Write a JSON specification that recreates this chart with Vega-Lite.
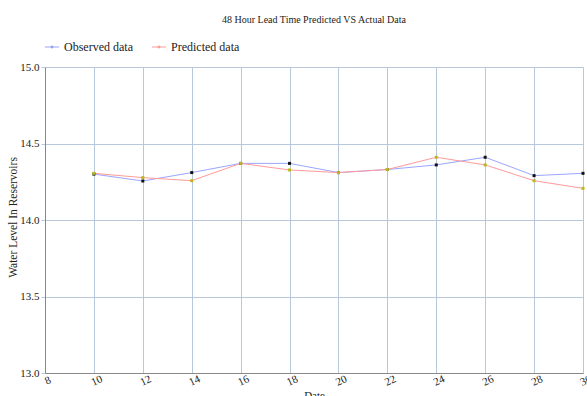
{
  "$schema": "https://vega.github.io/schema/vega-lite/v6.json",
  "autosize": "none",
  "width": 538,
  "height": 306,
  "padding": {"left": 45, "top": 67, "right": 4, "bottom": 23},
  "background": "white",
  "config": {
    "font": "Liberation Serif",
    "view": {"stroke": null}
  },
  "title": {
    "text": "48 Hour Lead Time Predicted VS Actual Data",
    "fontSize": 10,
    "fontWeight": "normal",
    "font": "Liberation Serif",
    "color": "#222",
    "anchor": "middle",
    "frame": "group",
    "offset": 14
  },
  "data": {
    "values": [
      {"date": 10, "value": 14.30, "series": "Observed data"},
      {"date": 12, "value": 14.255, "series": "Observed data"},
      {"date": 14, "value": 14.31, "series": "Observed data"},
      {"date": 16, "value": 14.37, "series": "Observed data"},
      {"date": 18, "value": 14.37, "series": "Observed data"},
      {"date": 20, "value": 14.31, "series": "Observed data"},
      {"date": 22, "value": 14.33, "series": "Observed data"},
      {"date": 24, "value": 14.36, "series": "Observed data"},
      {"date": 26, "value": 14.41, "series": "Observed data"},
      {"date": 28, "value": 14.29, "series": "Observed data"},
      {"date": 30, "value": 14.305, "series": "Observed data"},
      {"date": 10, "value": 14.305, "series": "Predicted data"},
      {"date": 12, "value": 14.277, "series": "Predicted data"},
      {"date": 14, "value": 14.257, "series": "Predicted data"},
      {"date": 16, "value": 14.37, "series": "Predicted data"},
      {"date": 18, "value": 14.327, "series": "Predicted data"},
      {"date": 20, "value": 14.31, "series": "Predicted data"},
      {"date": 22, "value": 14.33, "series": "Predicted data"},
      {"date": 24, "value": 14.41, "series": "Predicted data"},
      {"date": 26, "value": 14.36, "series": "Predicted data"},
      {"date": 28, "value": 14.257, "series": "Predicted data"},
      {"date": 30, "value": 14.207, "series": "Predicted data"}
    ]
  },
  "encoding": {
    "x": {
      "field": "date",
      "type": "quantitative",
      "scale": {"domain": [8, 30], "nice": false, "zero": false},
      "axis": {
        "title": "Date",
        "values": [8, 10, 12, 14, 16, 18, 20, 22, 24, 26, 28, 30],
        "labelAngle": -25,
        "labelAlign": "center",
        "labelBaseline": "top",
        "labelFontSize": 11,
        "labelColor": "#222",
        "labelPadding": 2,
        "tickSize": 0,
        "gridColor": "#b8c8da",
        "gridOpacity": 1,
        "domainColor": "#888",
        "titleFontSize": 11,
        "titleFontWeight": "normal",
        "titleColor": "#222",
        "titlePadding": 2
      }
    },
    "y": {
      "field": "value",
      "type": "quantitative",
      "scale": {"domain": [13, 15], "nice": false, "zero": false},
      "axis": {
        "title": "Water Level In Reservoirs",
        "values": [13, 13.5, 14, 14.5, 15],
        "format": ".1f",
        "labelFontSize": 11,
        "labelColor": "#222",
        "tickSize": 4,
        "tickColor": "#b8c8da",
        "gridColor": "#b8c8da",
        "gridOpacity": 1,
        "domainColor": "#888",
        "titleFontSize": 11.5,
        "titleFontWeight": "normal",
        "titleColor": "#222",
        "titleX": -27,
        "titleY": 150,
        "titleBaseline": "bottom",
        "titleAngle": -90,
        "titleAlign": "center"
      }
    }
  },
  "layer": [
    {
      "mark": {"type": "line", "strokeWidth": 1},
      "encoding": {
        "color": {
          "field": "series",
          "type": "nominal",
          "scale": {"domain": ["Observed data", "Predicted data"], "range": ["#9aa6ff", "#ff9a9a"]},
          "legend": {
            "title": null,
            "orient": "none",
            "legendX": -1,
            "legendY": -28,
            "direction": "horizontal",
            "labelFontSize": 12,
            "labelColor": "#222",
            "labelFont": "Liberation Serif",
            "symbolType": "M-1,0L1,0M-0.12,-0.12h0.24v0.24h-0.24Z",
            "symbolSize": 200,
            "symbolStrokeWidth": 1,
            "columnPadding": 16,
            "encode": {
              "symbols": {
                "update": {
                  "fill": [
                    {"test": "datum.value === 'Observed data'", "value": "#111"},
                    {"value": "#b8b820"}
                  ],
                  "fillOpacity": {"value": 1}
                }
              }
            }
          }
        }
      }
    },
    {
      "mark": {"type": "square", "size": 9, "filled": true, "opacity": 1},
      "encoding": {
        "fill": {
          "field": "series",
          "type": "nominal",
          "scale": {"domain": ["Observed data", "Predicted data"], "range": ["#111", "#b8b820"]},
          "legend": null
        }
      }
    }
  ]
}
